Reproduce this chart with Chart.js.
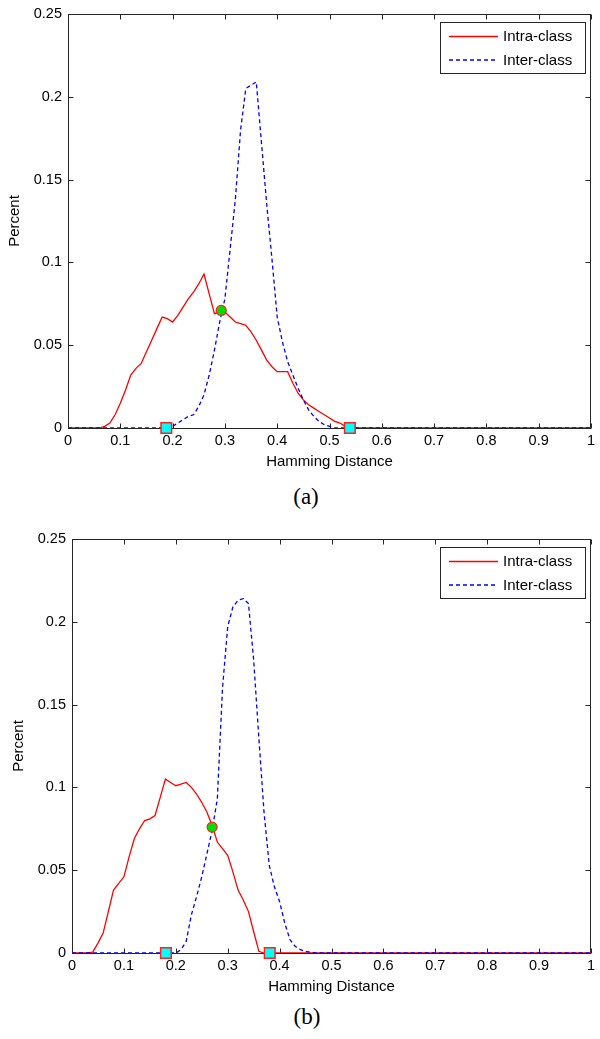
<!DOCTYPE html>
<html>
<head>
<meta charset="utf-8">
<script src="https://cdn.jsdelivr.net/npm/chart.js@4.4.1/dist/chart.umd.min.js"></script>
<style>
  html, body { margin: 0; padding: 0; background: #fff; }
  body { width: 600px; height: 1039px; position: relative; overflow: hidden; }
  canvas { position: absolute; left: 0; }
  .cap { position: absolute; width: 600px; left: 0; text-align: center;
         font-family: "Liberation Serif", "Times New Roman", serif; font-size: 23px; color: #000; line-height: 28px; }
</style>
</head>
<body>
<canvas id="chartA" width="600" height="475" style="top:0px"></canvas>
<div class="cap" style="top:483px;left:6px">(a)</div>
<canvas id="chartB" width="600" height="475" style="top:525px"></canvas>
<div class="cap" style="top:1003px;left:7px">(b)</div>
<script>
// ---- data ----
const distances = [0,0.01,0.02,0.03,0.04,0.05,0.06,0.07,0.08,0.09,
  0.10,0.11,0.12,0.13,0.14,0.15,0.16,0.17,0.18,0.19,
  0.20,0.21,0.22,0.23,0.24,0.25,0.26,0.27,0.28,0.29,
  0.30,0.31,0.32,0.33,0.34,0.35,0.36,0.37,0.38,0.39,
  0.40,0.41,0.42,0.43,0.44,0.45,0.46,0.47,0.48,0.49,
  0.50,0.51,0.52,0.53,0.54,0.55,0.56,0.57,0.58,0.59,
  0.60,1];

const intraA = [0,0,0,0,0,0,0,0.001,0.003,0.008,
  0.015,0.023,0.032,0.036,0.039,0.046,0.053,0.060,0.067,0.066,
  0.064,0.068,0.073,0.078,0.082,0.087,0.093,0.081,0.069,0.070,
  0.070,0.067,0.064,0.063,0.062,0.058,0.053,0.047,0.041,0.037,
  0.034,0.034,0.034,0.027,0.021,0.017,0.014,0.012,0.010,0.008,
  0.006,0.004,0.003,0.001,0,0,0,0,0,0,
  0,0];
const interA = [0,0,0,0,0,0,0,0,0,0,
  0,0,0,0,0,0,0,0,0,0,
  0.001,0.003,0.005,0.007,0.008,0.013,0.020,0.032,0.047,0.064,
  0.078,0.108,0.138,0.180,0.205,0.207,0.209,0.172,0.135,0.102,
  0.067,0.052,0.040,0.032,0.024,0.017,0.011,0.007,0.004,0.002,
  0.001,0,0,0,0,0,0,0,0,0,
  0,0];
const eerA = [0.293, 0.071];
const thresholdsA = [0.188, 0.539];

const intraB = [0,0,0,0,0.0005,0.006,0.012,0.025,0.038,0.042,
  0.046,0.058,0.069,0.075,0.080,0.081,0.083,0.094,0.105,0.103,
  0.101,0.102,0.103,0.100,0.096,0.091,0.085,0.077,0.067,0.063,
  0.059,0.049,0.038,0.032,0.025,0.013,0.001,0,0,0,
  0,0,0,0,0,0,0,0,0,0,
  0,0,0,0,0,0,0,0,0,0,
  0,0];
const interB = [0,0,0,0,0,0,0,0,0,0,
  0,0,0,0,0,0,0,0,0,0,
  0,0.002,0.007,0.023,0.034,0.046,0.060,0.074,0.093,0.160,
  0.197,0.209,0.213,0.214,0.211,0.177,0.130,0.085,0.053,0.040,
  0.031,0.018,0.008,0.004,0.002,0.001,0.0005,0,0,0,
  0,0,0,0,0,0,0,0,0,0,
  0,0];
const eerB = [0.27, 0.076];
const thresholdsB = [0.181, 0.381];

const seriesLabels = ['Intra-class', 'Inter-class'];
const xTickLabels = ['0','0.1','0.2','0.3','0.4','0.5','0.6','0.7','0.8','0.9','1'];
const yTickLabels = ['0','0.05','0.1','0.15','0.2','0.25'];

// ---- styles ----
const FONT = '"Liberation Sans", Arial, Helvetica, sans-serif';
const AXIS_COLOR = '#262626';
const SERIES_COLORS = ['#ff0000', '#0000ff'];
const SERIES_DASH = [[], [4, 3]];
const LINE_W = 1.3;

const framePlugin = {
  id: 'matlabFrame',
  beforeDatasetsDraw(chart) {
    const {ctx, chartArea: a, scales: {x, y}} = chart;
    ctx.save();
    ctx.strokeStyle = AXIS_COLOR;
    ctx.lineWidth = 1;
    ctx.setLineDash([]);
    const L = Math.round(a.left) + 0.5, R = Math.round(a.right) - 0.5;
    const T = Math.round(a.top) + 0.5, B = Math.round(a.bottom) + 0.5;
    ctx.strokeRect(L, T, R - L, B - T);
    ctx.beginPath();
    x.ticks.forEach(t => {
      const px = Math.round(x.getPixelForValue(t.value)) + 0.5;
      ctx.moveTo(px, B); ctx.lineTo(px, B - 5);
      ctx.moveTo(px, T); ctx.lineTo(px, T + 5);
    });
    y.ticks.forEach(t => {
      const py = Math.round(y.getPixelForValue(t.value)) + 0.5;
      ctx.moveTo(L, py); ctx.lineTo(L + 5, py);
      ctx.moveTo(R, py); ctx.lineTo(R - 5, py);
    });
    ctx.stroke();
    ctx.restore();
  },
  afterDraw(chart) {
    const {ctx, chartArea: a} = chart;
    const bw = 145, bh = 51;
    const bx = Math.round(a.right) - 6 - bw, by = Math.round(a.top) + 8;
    ctx.save();
    ctx.setLineDash([]);
    ctx.fillStyle = '#fff';
    ctx.fillRect(bx, by, bw, bh);
    ctx.strokeStyle = AXIS_COLOR;
    ctx.lineWidth = 1;
    ctx.strokeRect(bx + 0.5, by + 0.5, bw, bh);
    const rows = [14.5, 38];
    [0, 1].forEach(k => {
      const yy = by + rows[k];
      ctx.beginPath();
      ctx.strokeStyle = SERIES_COLORS[k];
      ctx.lineWidth = 1.6;
      ctx.setLineDash(SERIES_DASH[k]);
      ctx.moveTo(bx + 9, yy); ctx.lineTo(bx + 58, yy);
      ctx.stroke();
      ctx.setLineDash([]);
      ctx.fillStyle = '#000';
      ctx.font = '15px ' + FONT;
      ctx.textBaseline = 'middle';
      ctx.textAlign = 'left';
      ctx.fillText(seriesLabels[k], bx + 63, yy + 0.5);
    });
    ctx.restore();
  }
};

function toPoints(xs, ys) { return xs.map((d, i) => ({x: d, y: ys[i]})); }

function makeChart(id, intra, inter, eer, thresholds, padLeft) {
  return new Chart(document.getElementById(id), {
    type: 'scatter',
    data: {
      datasets: [
        { label: seriesLabels[0], data: toPoints(distances, intra), showLine: true,
          borderColor: SERIES_COLORS[0], borderWidth: LINE_W, pointRadius: 0, order: 3, tension: 0 },
        { label: seriesLabels[1], data: toPoints(distances, inter), showLine: true,
          borderColor: SERIES_COLORS[1], borderWidth: LINE_W, borderDash: SERIES_DASH[1], pointRadius: 0, order: 2, tension: 0 },
        { label: 'thresholds', data: thresholds.map(t => ({x: t, y: 0})), showLine: false,
          pointStyle: 'rect', pointRadius: 7.5, backgroundColor: '#00ffff', borderColor: '#ff2020',
          pointBorderWidth: 1.5, order: 1, clip: false },
        { label: 'eer', data: [{x: eer[0], y: eer[1]}], showLine: false,
          pointStyle: 'circle', pointRadius: 5, backgroundColor: '#00e000', borderColor: '#ff2020',
          pointBorderWidth: 1.2, order: 0, clip: false }
      ]
    },
    options: {
      responsive: false,
      animation: false,
      devicePixelRatio: 1,
      layout: { padding: { top: 14, right: 3, bottom: 0, left: padLeft } },
      plugins: { legend: { display: false }, tooltip: { enabled: false } },
      scales: {
        x: {
          type: 'linear', min: 0, max: 1,
          grid: { display: false, drawTicks: false }, border: { display: false },
          ticks: { stepSize: 0.1, autoSkip: false, maxRotation: 0, padding: 4, color: '#000',
                   font: { family: FONT, size: 14.5 },
                   callback: (v, i) => xTickLabels[i] },
          title: { display: true, text: 'Hamming Distance', color: '#000',
                   font: { family: FONT, size: 15 }, padding: { top: 0, bottom: 4 } },
          afterFit: s => { s.height = 47; s.paddingLeft = 0; s.paddingRight = 0; }
        },
        y: {
          type: 'linear', min: 0, max: 0.25,
          grid: { display: false, drawTicks: false }, border: { display: false },
          ticks: { stepSize: 0.05, padding: 6, color: '#000',
                   font: { family: FONT, size: 14.5 },
                   callback: (v, i) => yTickLabels[i] },
          title: { display: true, text: 'Percent', color: '#000',
                   font: { family: FONT, size: 15 }, padding: { top: 6, bottom: 0 } },
          afterFit: s => { s.width = 68; s.paddingTop = 0; s.paddingBottom = 0; }
        }
      }
    },
    plugins: [framePlugin]
  });
}

makeChart('chartA', intraA, interA, eerA, thresholdsA, 0);
makeChart('chartB', intraB, interB, eerB, thresholdsB, 4);
</script>
</body>
</html>
